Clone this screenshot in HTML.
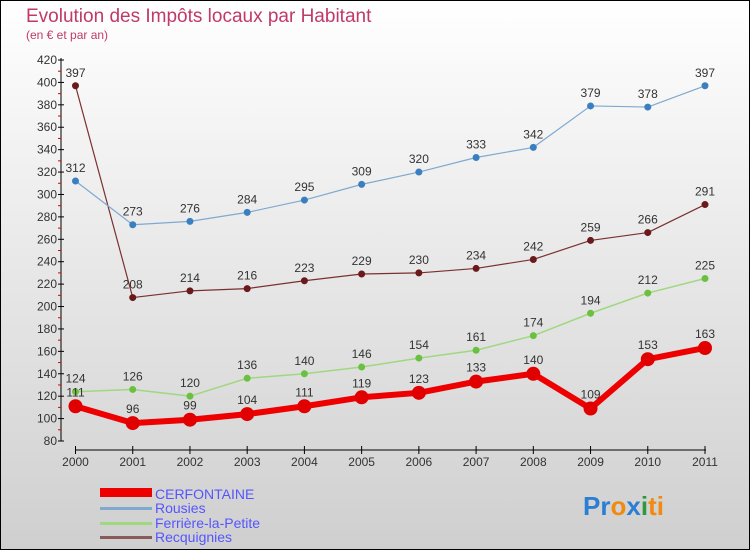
<!DOCTYPE html>
<html><head><meta charset="utf-8"><style>
body{margin:0}
svg{display:block;font-family:"Liberation Sans",sans-serif}
</style></head><body>
<svg id="c" width="750" height="550">
<defs><linearGradient id="bg" x1="0" y1="0" x2="0" y2="1"><stop offset="0" stop-color="#ffffff"/><stop offset="1" stop-color="#cfcfcf"/></linearGradient></defs>
<rect x="0.5" y="0.5" width="749" height="549" fill="url(#bg)" stroke="#000"/>
<text x="26" y="22" font-size="19" fill="#c0396a">Evolution des Impôts locaux par Habitant</text>
<text x="26" y="39" font-size="12" fill="#c0396a">(en € et par an)</text>
<g id="axes"></g><g id="series"></g>
<g>
<rect x="100" y="488" width="52" height="9" fill="#e00"/>
<text x="155" y="499" font-size="14" fill="#55f">CERFONTAINE</text>
<rect x="100" y="507" width="52" height="3" fill="#7fa9cf"/>
<text x="155" y="513" font-size="14" fill="#55f">Rousies</text>
<rect x="100" y="522" width="52" height="3" fill="#9fd87f"/>
<text x="155" y="528" font-size="14" fill="#55f">Ferrière-la-Petite</text>
<rect x="100" y="536" width="52" height="3" fill="#8a5a5a"/>
<text x="155" y="542" font-size="14" fill="#55f">Recquignies</text>
</g>
<text x="583" y="515" font-size="26" font-weight="bold"><tspan fill="#2a7fd4">Pr</tspan><tspan fill="#f08a10">o</tspan><tspan fill="#2a7fd4">x</tspan><tspan fill="#2c9a3a">i</tspan><tspan fill="#f08a10">ti</tspan></text>
</svg>
<script>
const years=["2000","2001","2002","2003","2004","2005","2006","2007","2008","2009","2010","2011"];
const yTicks=[80,100,120,140,160,180,200,220,240,260,280,300,320,340,360,380,400,420];
const cerfontaine=[111,96,99,104,111,119,123,133,140,109,153,163];
const rousies=[312,273,276,284,295,309,320,333,342,379,378,397];
const ferriere=[124,126,120,136,140,146,154,161,174,194,212,225];
const recquignies=[397,208,214,216,223,229,230,234,242,259,266,291];
const NS="http://www.w3.org/2000/svg";
function X(i){return 75.5+i*(705-75.5)/11;}
function Y(v){return 441-(v-80)*(441-60)/340;}
function mk(t,a,p){const e=document.createElementNS(NS,t);for(const k in a)e.setAttribute(k,a[k]);p.appendChild(e);return e;}
const ax=document.getElementById('axes');
let e=mk('line',{x1:61,y1:58,x2:61,y2:441,stroke:'#000'},ax);


e=mk('line',{x1:75,y1:450,x2:706,y2:450,stroke:'#000'},ax);


yTicks.forEach((v,i)=>{
  mk('line',{x1:58,y1:Y(v),x2:64,y2:Y(v),stroke:'#000'},ax);
  if(i<yTicks.length-1)mk('line',{x1:58,y1:Y(v+10),x2:61,y2:Y(v+10),stroke:'#d00'},ax);
  const t=mk('text',{x:57,y:Y(v)+4,'font-size':12,fill:'#333','text-anchor':'end'},ax);t.textContent=v;
  
  
});
years.forEach((y,i)=>{
  mk('line',{x1:X(i),y1:446,x2:X(i),y2:454,stroke:'#000'},ax);
  const t=mk('text',{x:X(i),y:466,'font-size':12,fill:'#333','text-anchor':'middle'},ax);t.textContent=y;
  
  
});
const sg=document.getElementById('series');
function draw(data,name,color,dot,w,r,labelOff){
  const g=mk('g',{},sg);
  
  
  const p=mk('polyline',{points:data.map((v,i)=>X(i)+','+Y(v)).join(' '),fill:'none',stroke:color,'stroke-width':w,'stroke-linejoin':'round'},g);
  
  
  data.forEach((v,i)=>{
    const c=mk('circle',{cx:X(i),cy:Y(v),r:r,fill:dot},g);
    
    
    const t=mk('text',{x:X(i),y:Y(v)+labelOff,'font-size':12,fill:'#333','text-anchor':'middle'},g);t.textContent=v;
    
    
  });
}
draw(recquignies,'recquignies','#7a3030','#6a1a1a',1.2,3.5,-9);
draw(rousies,'rousies','#7fa9cf','#3a7fc0',1.2,3.5,-9);
draw(ferriere,'ferriere','#9fd87f','#6cc040',1.5,3.5,-9);
draw(cerfontaine,'cerfontaine','#ee0000','#e00000',6,7,-10);
</script>
</body></html>
